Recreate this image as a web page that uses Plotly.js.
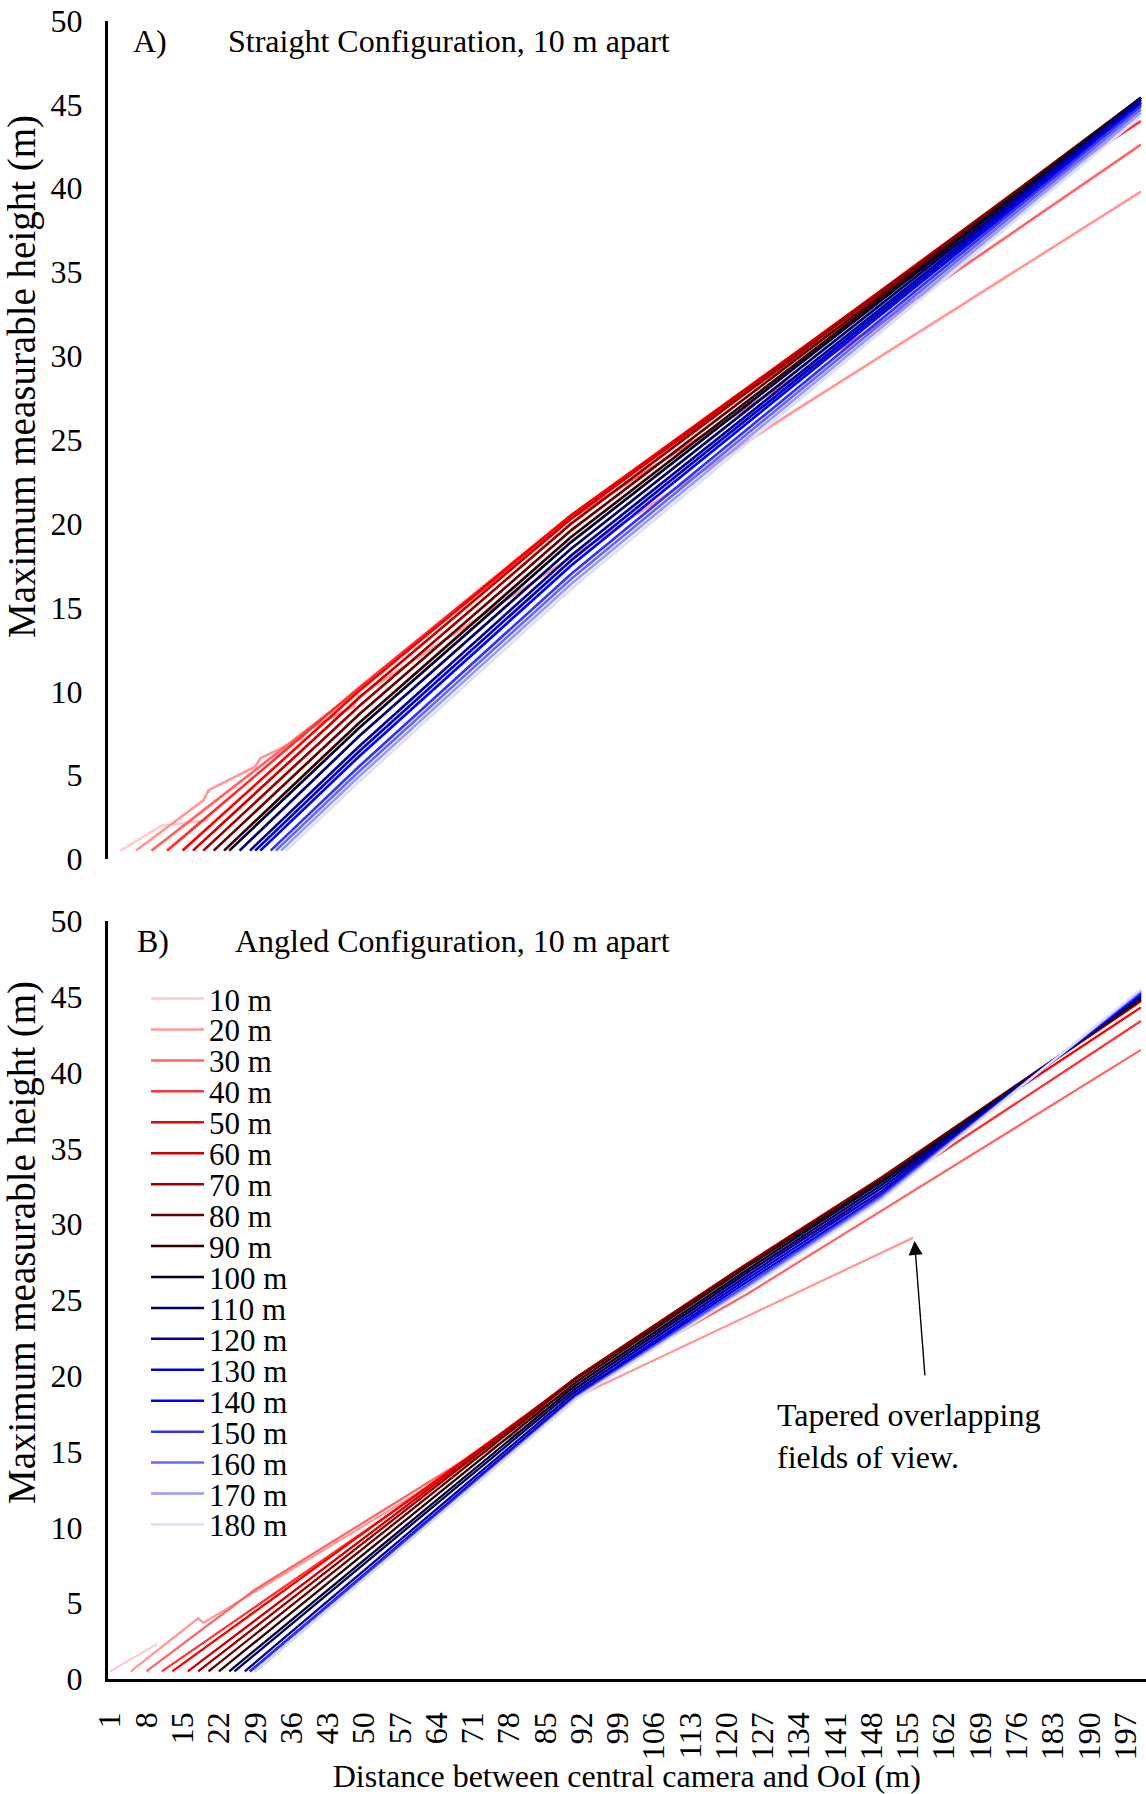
<!DOCTYPE html>
<html>
<head>
<meta charset="utf-8">
<script src="https://cdn.plot.ly/plotly-3.0.1.min.js"></script>
<style>
  html, body { margin: 0; padding: 0; background: #fff; }
  #chart { width: 1146px; height: 1794px; }
</style>
</head>
<body>
<div id="chart"></div>
<script>
// ---------- data ----------
const seriesNames = ['10 m','20 m','30 m','40 m','50 m','60 m','70 m','80 m','90 m',
  '100 m','110 m','120 m','130 m','140 m','150 m','160 m','170 m','180 m'];
const seriesColors = ['#FFCCCC','#FF9999','#FF6666','#FF3333','#FF0000','#CC0000','#990000',
  '#660000','#330000','#000033','#000066','#000099','#0000CC','#0000FF','#3333FF',
  '#6666FF','#9999FF','#DDDDFF'];
const xTickLabels = ['1','8','15','22','29','36','43','50','57','64','71','78','85','92','99',
  '106','113','120','127','134','141','148','155','162','169','176','183','190','197'];
const yTickValues = [0,5,10,15,20,25,30,35,40,45,50];

// A) Straight configuration: vertices (distance, max height) per separation
const straightX = [
  [3, 11, 20],
  [6, 19, 20, 29, 30, 38, 39, 48, 49, 132, 200],
  [9, 49, 90, 150, 200],
  [12, 49, 90, 180, 200],
  [15, 49, 90, 200],
  [17, 49, 90, 200],
  [19, 49, 90, 200],
  [21, 49, 90, 200],
  [23, 49, 90, 200],
  [24, 49, 90, 200],
  [26, 49, 90, 200],
  [28, 49, 90, 200],
  [29, 49, 90, 200],
  [30, 49, 90, 200],
  [32, 49, 90, 200],
  [33, 49, 90, 200],
  [34, 49, 90, 200],
  [35, 49, 90, 200]
];
const straightY = [
  [0.5, 2.0, 2.3],
  [0.5, 3.5, 4.1, 5.5, 6.0, 7.2, 7.7, 9.1, 9.7, 26.5, 39.8],
  [0.5, 10.1, 20.3, 32.0, 42.6],
  [0.5, 10.2, 20.5, 40.0, 44.0],
  [0.5, 10.0, 20.5, 45.1],
  [0.5, 9.6, 20.3, 45.3],
  [0.5, 9.1, 20.0, 45.4],
  [0.5, 8.6, 19.6, 45.4],
  [0.5, 8.1, 19.2, 45.4],
  [0.5, 7.8, 18.9, 45.4],
  [0.5, 7.3, 18.5, 45.3],
  [0.5, 6.7, 18.1, 45.2],
  [0.5, 6.4, 17.8, 45.1],
  [0.5, 6.1, 17.5, 45.0],
  [0.5, 5.5, 17.0, 44.9],
  [0.5, 5.2, 16.7, 44.7],
  [0.5, 4.9, 16.4, 44.5],
  [0.5, 4.6, 16.1, 44.3]
];

// B) Angled configuration
const angledX = [
  [1, 10],
  [5, 18, 19, 91, 156],
  [8, 29, 91, 124, 200],
  [11, 91, 124, 148, 200],
  [13, 91, 124, 150, 200],
  [16, 91, 124, 150, 200],
  [18, 91, 124, 150, 200],
  [20, 91, 124, 150, 200],
  [22, 91, 124, 150, 200],
  [24, 91, 124, 150, 200],
  [25, 91, 124, 150, 200],
  [27, 91, 124, 150, 200],
  [28, 91, 124, 150, 200],
  [28, 91, 124, 150, 200],
  [28, 91, 124, 150, 200],
  [29, 91, 124, 150, 200],
  [29, 91, 124, 150, 200],
  [29, 91, 124, 150, 200]
];
const angledY = [
  [0.5, 2.3],
  [0.5, 4.0, 3.7, 18.6, 29.1],
  [0.5, 5.9, 19.0, 25.4, 41.5],
  [0.5, 19.4, 26.9, 31.7, 43.4],
  [0.5, 19.8, 27.3, 33.0, 44.3],
  [0.5, 19.9, 27.4, 33.1, 44.7],
  [0.5, 19.9, 27.4, 33.1, 44.8],
  [0.5, 19.8, 27.3, 33.0, 44.8],
  [0.5, 19.6, 27.2, 32.9, 44.9],
  [0.5, 19.4, 27.0, 32.8, 44.9],
  [0.5, 19.2, 26.8, 32.6, 45.0],
  [0.5, 19.0, 26.6, 32.4, 45.1],
  [0.5, 18.8, 26.4, 32.2, 45.2],
  [0.5, 18.7, 26.2, 32.0, 45.25],
  [0.5, 18.6, 26.0, 31.9, 45.3],
  [0.5, 18.6, 25.9, 31.8, 45.4],
  [0.5, 18.5, 25.8, 31.7, 45.45],
  [0.5, 18.5, 25.7, 31.6, 45.5]
];

// ---------- layout helpers ----------
const W = 1146, H = 1794;
const px = v => v / W;
const py = v => 1 - v / H;
const FONT = 'Liberation Serif, Times New Roman, serif';
const black = '#000';

const traces = [];
seriesNames.forEach((n, i) => {
  traces.push({ type: 'scatter', mode: 'lines', name: n, x: straightX[i], y: straightY[i],
    xaxis: 'x', yaxis: 'y', showlegend: false,
    line: { color: seriesColors[i], width: 2.7 } });
});
seriesNames.forEach((n, i) => {
  traces.push({ type: 'scatter', mode: 'lines', name: n, x: angledX[i], y: angledY[i],
    xaxis: 'x2', yaxis: 'y2', showlegend: false,
    line: { color: seriesColors[i], width: 2.3 } });
});

const xTickValues = xTickLabels.map(Number);
const xRange = [0.5, 200.98];
const xDomain = [px(107.5), 1];

const yCommon = {
  range: [0, 50], tickvals: yTickValues, ticktext: yTickValues.map(String),
  showgrid: false, zeroline: false, showline: true, linecolor: black, linewidth: 2.5,
  ticks: '', ticklabelstandoff: 16,
  tickfont: { family: FONT, size: 32, color: black }
};

const shapes = [];
const annotations = [];

// y-axis titles (placed where the reference puts them)
[377, 1243].forEach(yc => {
  annotations.push({ xref: 'paper', yref: 'paper', x: px(22), y: py(yc), xanchor: 'center', yanchor: 'middle',
    textangle: -90, text: 'Maximum measurable height (m)', showarrow: false,
    font: { family: FONT, size: 39, color: black } });
});

// custom legend (panel B)
seriesNames.forEach((n, i) => {
  const yc = 998.5 + 30.94 * i;
  shapes.push({ type: 'line', xref: 'paper', yref: 'paper', x0: px(151), x1: px(204),
    y0: py(yc), y1: py(yc), line: { color: seriesColors[i], width: 2.5 } });
  annotations.push({ xref: 'paper', yref: 'paper', x: px(207), y: py(yc + 1.5),
    xanchor: 'left', yanchor: 'middle', text: n, showarrow: false,
    font: { family: FONT, size: 31, color: black } });
});

// panel labels
const labelFont = { family: FONT, size: 32, color: black };
annotations.push({ xref: 'paper', yref: 'paper', x: px(131), y: py(41), xanchor: 'left', yanchor: 'middle',
  text: 'A)', showarrow: false, font: labelFont });
annotations.push({ xref: 'paper', yref: 'paper', x: px(226), y: py(41), xanchor: 'left', yanchor: 'middle',
  text: 'Straight Configuration, 10 m apart', showarrow: false, font: labelFont });
annotations.push({ xref: 'paper', yref: 'paper', x: px(135), y: py(941), xanchor: 'left', yanchor: 'middle',
  text: 'B)', showarrow: false, font: labelFont });
annotations.push({ xref: 'paper', yref: 'paper', x: px(233), y: py(941), xanchor: 'left', yanchor: 'middle',
  text: 'Angled Configuration, 10 m apart', showarrow: false, font: labelFont });

// callout
annotations.push({ xref: 'paper', yref: 'paper', x: px(775), y: py(1436), xanchor: 'left', yanchor: 'middle',
  align: 'left', text: 'Tapered overlapping<br>fields of view.', showarrow: false,
  font: { family: FONT, size: 32, color: black } });
annotations.push({ xref: 'x2', yref: 'y2', x: 156.3, y: 28.9, axref: 'pixel', ayref: 'pixel',
  ax: 11, ay: 143, text: ' ', showarrow: true, arrowhead: 2, arrowsize: 2, arrowwidth: 1.4,
  arrowcolor: black, standoff: 0 });

const layout = {
  width: W, height: H,
  margin: { l: 0, r: 0, t: 0, b: 0 },
  paper_bgcolor: '#fff', plot_bgcolor: '#fff',
  showlegend: false,
  font: { family: FONT, color: black },
  xaxis: { domain: xDomain, range: xRange, anchor: 'y', showline: false, showticklabels: false,
    ticks: '', showgrid: false, zeroline: false },
  yaxis: Object.assign({}, yCommon, { domain: [py(859), py(20.6)], anchor: 'x' }),
  xaxis2: { domain: xDomain, range: xRange, anchor: 'y2', showline: true, linecolor: black, linewidth: 2.5,
    showgrid: false, zeroline: false, ticks: '', tickvals: xTickValues, ticktext: xTickLabels,
    tickangle: -90, ticklabelstandoff: 18, tickfont: { family: FONT, size: 32, color: black },
    title: { text: 'Distance between central camera and OoI (m)', font: { family: FONT, size: 32, color: black }, standoff: 8 } },
  yaxis2: Object.assign({}, yCommon, { domain: [py(1679), py(921)], anchor: 'x2' }),
  shapes: shapes,
  annotations: annotations
};

Plotly.newPlot('chart', traces, layout, { staticPlot: true, displayModeBar: false });
</script>
</body>
</html>
